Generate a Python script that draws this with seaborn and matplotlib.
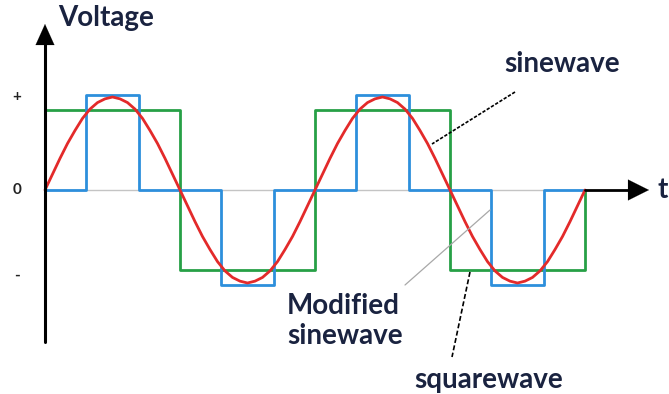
import numpy as np
import pandas as pd
import matplotlib
matplotlib.use("Agg")
import matplotlib.pyplot as plt
import seaborn as sns

# ---- data (time in degrees, voltage relative to sine peak) ----
sine_t = list(range(0, 721, 10))
sine_v = [0.00, 0.17, 0.34, 0.50, 0.64, 0.77, 0.87, 0.94, 0.98, 1.00,
          0.98, 0.94, 0.87, 0.77, 0.64, 0.50, 0.34, 0.17, 0.00,
          -0.17, -0.34, -0.50, -0.64, -0.77, -0.87, -0.94, -0.98, -1.00,
          -0.98, -0.94, -0.87, -0.77, -0.64, -0.50, -0.34, -0.17, 0.00,
          0.17, 0.34, 0.50, 0.64, 0.77, 0.87, 0.94, 0.98, 1.00,
          0.98, 0.94, 0.87, 0.77, 0.64, 0.50, 0.34, 0.17, 0.00,
          -0.17, -0.34, -0.50, -0.64, -0.77, -0.87, -0.94, -0.98, -1.00,
          -0.98, -0.94, -0.87, -0.77, -0.64, -0.50, -0.34, -0.17, 0.00]

square_edges = [0, 180, 360, 540, 720]
square_levels = [0.86, -0.86, 0.86, -0.86]

mod_edges = [0, 55, 125, 235, 305, 415, 485, 595, 665, 720]
mod_levels = [0.0, 1.02, 0.0, -1.02, 0.0, 1.02, 0.0, -1.02, 0.0]

ytick_labels = ["+", "0", "-"]
ytick_values = [1.0, 0.0, -0.92]


def steps(edges, levels):
    t, v = [edges[0]], [0.0]
    for i, lv in enumerate(levels):
        t += [edges[i], edges[i + 1]]
        v += [lv, lv]
    t.append(edges[-1])
    v.append(0.0)
    return pd.DataFrame({"t": t, "v": v, "o": range(len(t))})


sns.set_theme(style="white")
plt.rcParams["font.family"] = ["Lato", "DejaVu Sans"]

fig = plt.figure(figsize=(6.69, 3.94), dpi=100)
ax = fig.add_axes([0, 0, 1, 1])

# pixel-to-data mapping: x px 45 -> 0 deg, 270 px per 360 deg; y px 190 -> 0, 93 px per unit
def px(x):
    return (x - 45) * 360 / 270

def py(y):
    return (190 - y) / 93

ax.set_xlim(px(0), px(669))
ax.set_ylim(py(394), py(0))
ax.axis("off")

# baseline
ax.plot([0, 720], [0, 0], color="#c4c4c4", lw=1.0, zorder=1)

sine_df = pd.DataFrame({"t": sine_t, "v": sine_v})
sq_df = steps(square_edges, square_levels)
mod_df = steps(mod_edges, mod_levels)

sns.lineplot(data=sq_df, x="t", y="v", sort=False, estimator=None,
             color="#27a046", lw=2.0, ax=ax, zorder=3)
sns.lineplot(data=mod_df, x="t", y="v", sort=False, estimator=None,
             color="#2d8fdc", lw=2.0, ax=ax, zorder=4)
sns.lineplot(data=sine_df, x="t", y="v", sort=False, estimator=None,
             color="#e32a2a", lw=2.0, ax=ax, zorder=5)

# axes arrows
ax.plot([0, 0], [py(342), py(40)], color="black", lw=2.2, zorder=6)
ax.annotate("", xy=(0, py(24)), xytext=(0, py(46)),
            arrowprops=dict(arrowstyle="-|>,head_length=1,head_width=0.45",
                            mutation_scale=15, color="black", lw=0.1,
                            shrinkA=0, shrinkB=0), zorder=7)
ax.plot([720, px(630)], [0, 0], color="black", lw=2.0, zorder=6)
ax.annotate("", xy=(px(649), 0), xytext=(px(626), 0),
            arrowprops=dict(arrowstyle="-|>,head_length=1,head_width=0.5",
                            mutation_scale=15, color="black", lw=0.1,
                            shrinkA=0, shrinkB=0), zorder=7)

txtc = "#1a2340"
fs = 20
ax.text(px(58), py(18), "Voltage", fontsize=fs, fontweight="bold", color=txtc,
        ha="left", va="center")
ax.text(px(657), py(190), "t", fontsize=fs, fontweight="bold", color=txtc,
        ha="left", va="center")
for lab, val in zip(ytick_labels, ytick_values):
    ax.text(px(17), val, lab, fontsize=11, fontweight="bold", color="#222222",
            ha="center", va="center")

ax.text(px(504), py(64), "sinewave", fontsize=fs, fontweight="bold", color=txtc,
        ha="left", va="center")
ax.text(px(287), py(321), "Modified\nsinewave", fontsize=fs, fontweight="bold",
        color=txtc, ha="left", va="center", linespacing=1.15)
ax.text(px(414), py(380), "squarewave", fontsize=fs, fontweight="bold", color=txtc,
        ha="left", va="center")

# leader lines
ax.plot([px(515), px(432)], [py(92), py(144)], color="black", lw=1.2,
        ls=(0, (2, 1)), zorder=8)
ax.plot([px(405), px(490)], [py(285), py(210)], color="#a8a8a8", lw=0.9, zorder=8)
ax.plot([px(470), px(452)], [py(272), py(357)], color="black", lw=1.2,
        ls=(0, (3, 1.5)), zorder=8)

fig.savefig("out.png", dpi=100)
